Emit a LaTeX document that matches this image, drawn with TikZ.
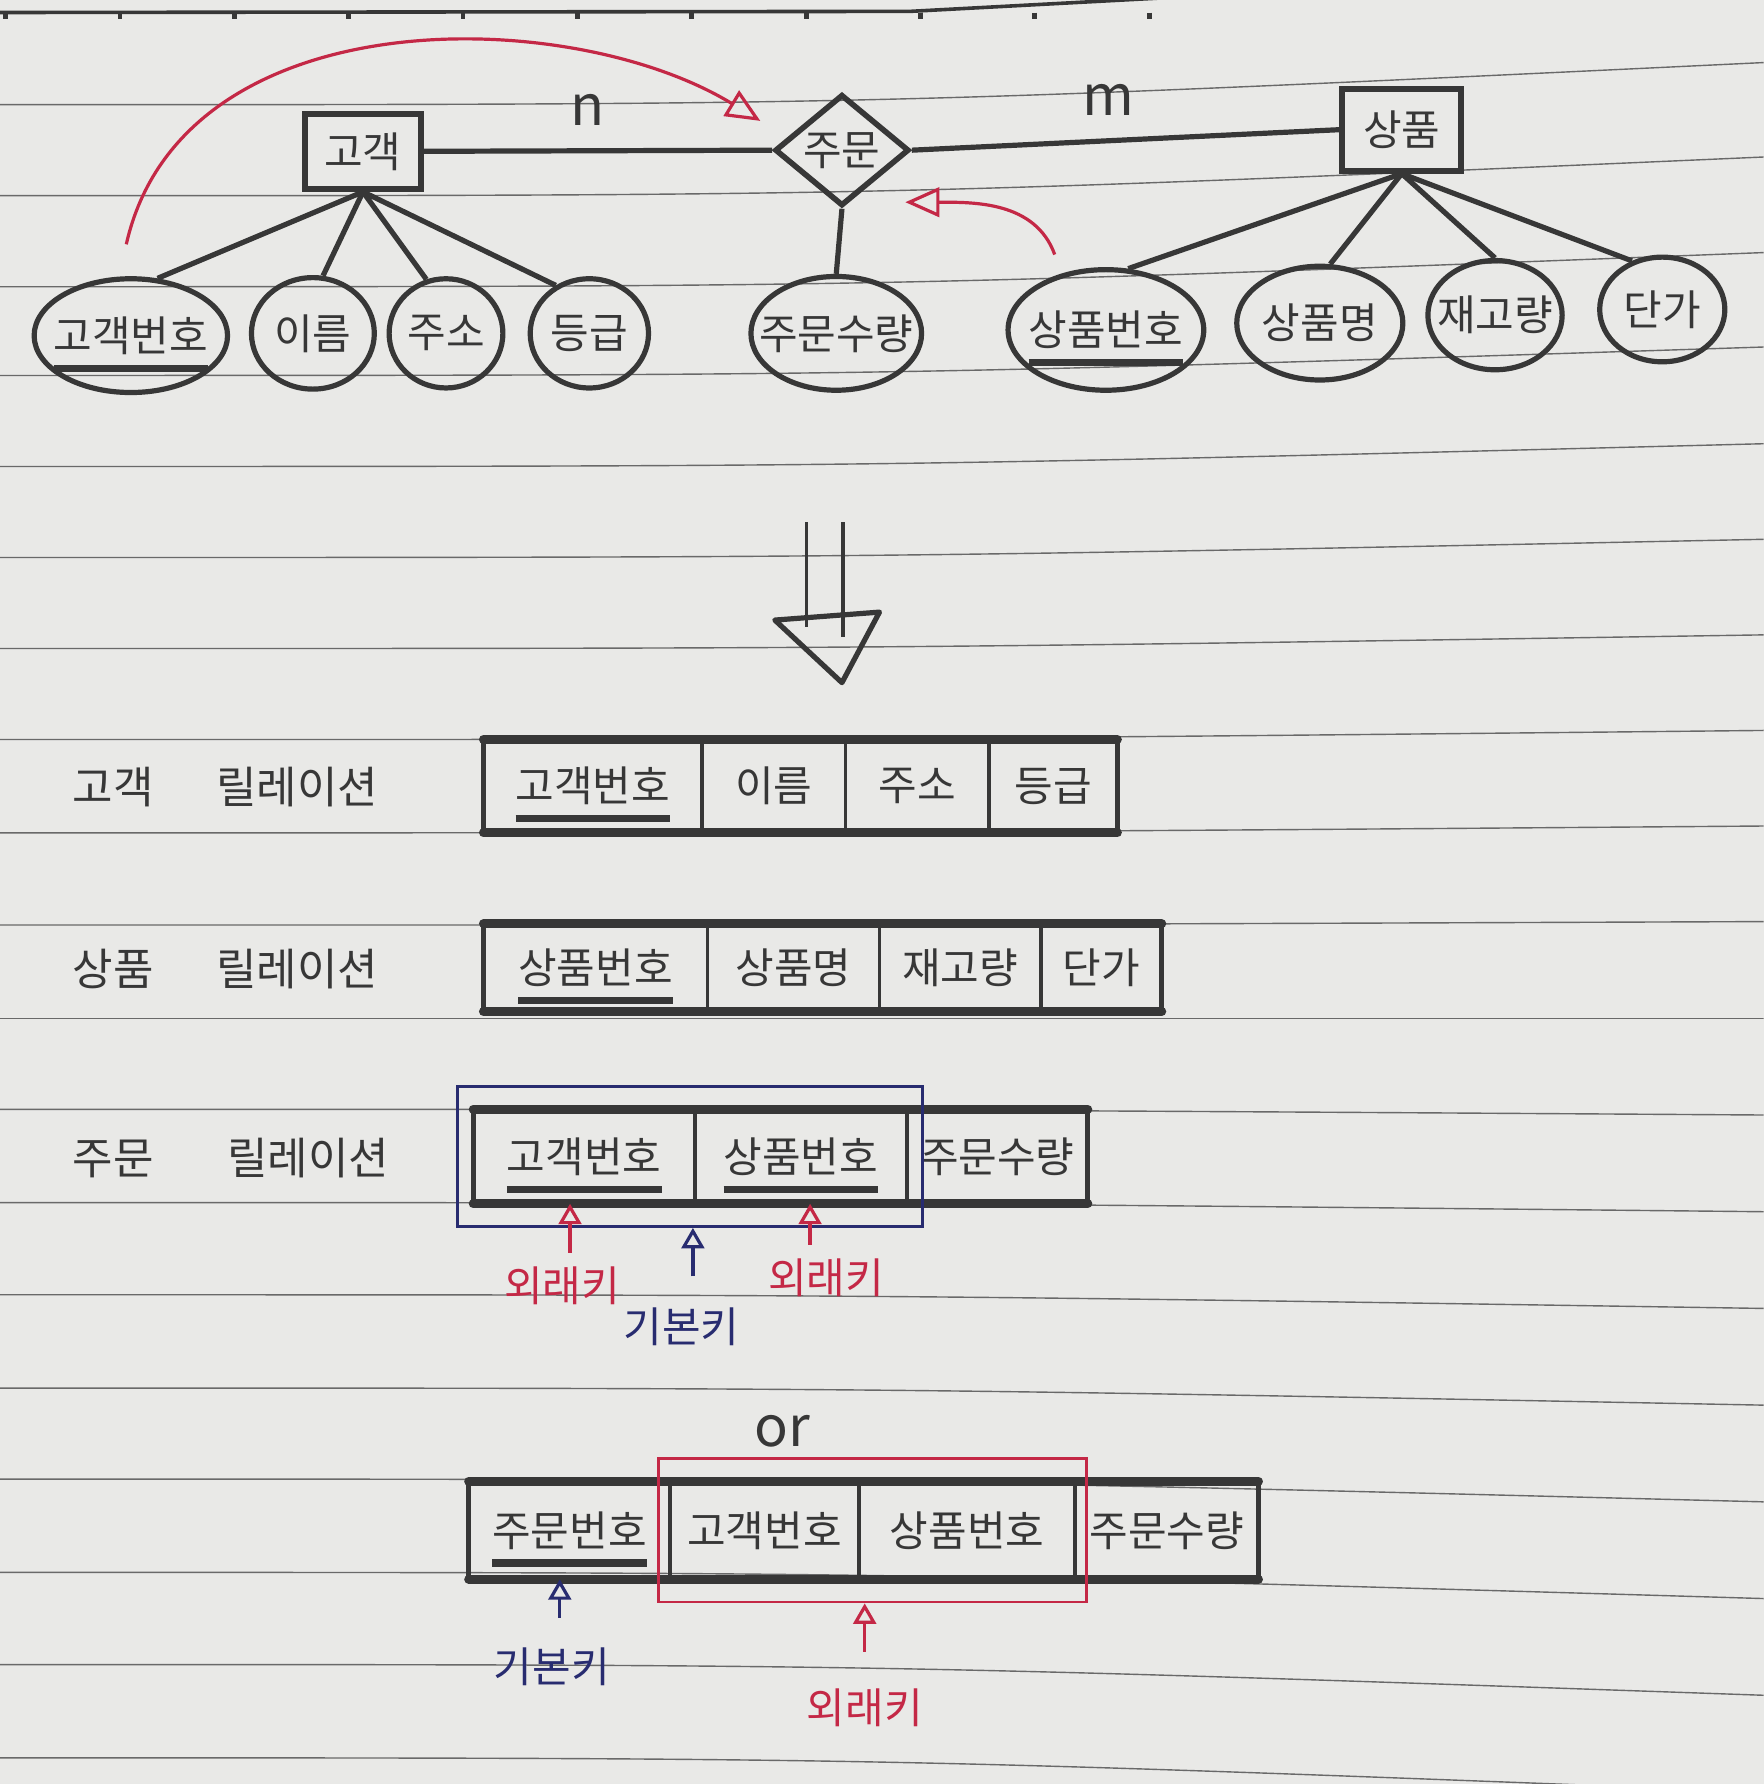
\documentclass[tikz,border=0pt]{standalone}
\usepackage{fontspec}
\setmainfont{Noto Sans CJK KR}
\usepackage{tikz}
\usetikzlibrary{arrows.meta,positioning,shapes.geometric,fit}
\definecolor{paper}{RGB}{233,233,231}
\definecolor{ruling}{RGB}{105,105,105}
\definecolor{pencil}{RGB}{55,55,55}
\definecolor{penred}{RGB}{196,40,70}
\definecolor{pennavy}{RGB}{40,44,112}
\newlength{\keywd}
\newcommand{\keyname}[1]{\settowidth{\keywd}{#1}#1\llap{\smash{\rule[-0.18cm]{\keywd}{1.8pt}}}}

\begin{document}
\begin{tikzpicture}[
  entity/.style={draw=pencil, line width=1.5pt, text=pencil, font=\fontsize{10.5}{12}\selectfont, minimum width=1.02cm, minimum height=0.66cm, inner sep=2pt},
  relship/.style={diamond, aspect=1.2, draw=pencil, line width=1.4pt, text=pencil, font=\fontsize{10.5}{12}\selectfont, inner sep=0pt, minimum width=1.18cm, minimum height=0.98cm},
  attr/.style={ellipse, draw=pencil, line width=1.3pt, text=pencil, font=\fontsize{10.5}{12}\selectfont, inner xsep=-0.35cm, inner ysep=0pt},
  link/.style={draw=pencil, line width=1.3pt},
  card/.style={text=pencil, font=\fontsize{14}{16}\selectfont},
  relname/.style={text=pencil, font=\fontsize{11}{13}\selectfont},
  cell/.style 2 args={draw=pencil, line width=0.9pt, text=pencil, font=\fontsize{10.5}{12}\selectfont, inner sep=0pt, outer sep=0pt, anchor=west, minimum width=#1, minimum height=#2},
  tableframe/.style={draw=pencil, line width=1.3pt},
  tableedge/.style={draw=pencil, line width=2.3pt, line cap=round},
  refarrow/.style={-{Triangle[open, length=0.3cm, width=0.26cm]}, penred, line width=0.8pt},
  fkarrow/.style={-{Triangle[open, length=0.18cm, width=0.2cm]}, penred, line width=0.8pt},
  pkarrow/.style={-{Triangle[open, length=0.18cm, width=0.2cm]}, pennavy, line width=0.8pt},
  fklabel/.style={text=penred, font=\fontsize{10.5}{12}\selectfont},
  pklabel/.style={text=pennavy, font=\fontsize{10.5}{12}\selectfont}
]

  % notebook page
  \useasboundingbox (0,0) rectangle (15.5,-15.68);
  \fill[paper] (0,0) rectangle (15.5,-15.68);
  \clip (0,0) rectangle (15.5,-15.68);
  \draw[pencil, line width=0.9pt] (0,-0.11) -- (8,-0.10) -- (15.5,0.3);
  \foreach \x in {0,...,10}
    \draw[pencil, line width=1.2pt] (0.05+\x*1.005,-0.11) -- ++(0,-0.06);
  \foreach \yl/\yr in {0.92/0.55, 1.72/1.38, 2.52/2.22, 3.30/3.05, 4.10/3.90, 4.90/4.74, 5.70/5.58, 6.50/6.42, 7.32/7.26, 8.13/8.10, 8.95/8.95, 9.75/9.80, 10.57/10.65, 11.38/11.50, 12.20/12.35, 13.00/13.20, 13.82/14.05, 14.63/14.90, 15.45/15.75}
    \draw[ruling, line width=0.35pt] (0,-\yl) .. controls (7.75,-\yl) .. (15.5,-\yr);

  % E-R diagram
  \node[entity] (cust) at (3.19,-1.33) {고객};
  \node[relship] (ord) at (7.40,-1.32) {주문};
  \node[entity, minimum width=1.05cm, minimum height=0.72cm] (prod) at (12.32,-1.14) {상품};

  \node[attr, minimum width=1.70cm, minimum height=1.00cm] (cno) at (1.15,-2.95) {\keyname{고객번호}};
  \node[attr, minimum width=1.08cm, minimum height=0.98cm] (cname) at (2.75,-2.93) {이름};
  \node[attr, minimum width=1.00cm, minimum height=0.96cm] (caddr) at (3.92,-2.93) {주소};
  \node[attr, minimum width=1.04cm, minimum height=0.96cm] (cgrade) at (5.18,-2.93) {등급};
  \node[attr, minimum width=1.50cm, minimum height=1.00cm] (oqty) at (7.35,-2.93) {주문수량};
  \node[attr, minimum width=1.72cm, minimum height=1.06cm] (pno) at (9.72,-2.90) {\keyname{상품번호}};
  \node[attr, minimum width=1.46cm, minimum height=1.00cm] (pname) at (11.60,-2.84) {상품명};
  \node[attr, minimum width=1.18cm, minimum height=0.96cm] (pstock) at (13.14,-2.77) {재고량};
  \node[attr, minimum width=1.10cm, minimum height=0.92cm] (pprice) at (14.61,-2.72) {단가};

  \draw[link] (cust.east) -- node[card, pos=0.47, above=0.08cm] {n} (ord.west);
  \draw[link] (ord.east) -- node[card, pos=0.46, above=0.08cm] {m} (prod.west);
  \draw[link] (cust.south) -- (cno.65);
  \draw[link] (cust.south) -- (cname.80);
  \draw[link] (cust.south) -- (caddr.110);
  \draw[link] (cust.south) -- (cgrade.125);
  \draw[link] (ord.south) -- (oqty.north);
  \draw[link] (prod.south) -- (pno.70);
  \draw[link] (prod.south) -- (pname.80);
  \draw[link] (prod.south) -- (pstock.north);
  \draw[link] (prod.south) -- (pprice.122);

  % keys carried into the relationship
  \draw[refarrow] ([shift={(-0.04,0.28)}]cno.north) .. controls +(0.49,2.17) and +(-1.69,1.03) .. ([xshift=-0.41cm]ord.north west);
  \draw[refarrow] ([shift={(-0.45,0.11)}]pno.north) .. controls +(110:0.5) and +(0:0.6) .. ([shift={(0.25,-0.2)}]ord.south east);

  % down arrow
  \draw[pencil, line width=0.9pt] (7.09,-4.59) -- (7.09,-5.51);
  \draw[pencil, line width=0.9pt] (7.41,-4.59) -- (7.41,-5.60);
  \draw[pencil, line width=1.3pt, line join=round] (6.81,-5.45) -- (7.73,-5.38) -- (7.40,-6.00) -- cycle;

  % customer relation
  \node[relname] (custrel) at (1.98,-6.92) {고객\hspace{0.55cm}릴레이션};
  \node[cell={1.92cm}{0.82cm}] (ck1) at (4.25,-6.91) {\keyname{고객번호}};
  \node[cell={1.26cm}{0.82cm}, right=0pt of ck1] (ck2) {이름};
  \node[cell={1.26cm}{0.82cm}, right=0pt of ck2] (ck3) {주소};
  \node[cell={1.13cm}{0.82cm}, right=0pt of ck3] (ck4) {등급};
  \draw[tableframe] (ck1.north west) rectangle (ck4.south east);
  \draw[tableedge] (ck1.north west) -- (ck4.north east);
  \draw[tableedge] (ck1.south west) -- (ck4.south east);

  % product relation
  \node[relname] (prodrel) at (1.98,-8.52) {상품\hspace{0.55cm}릴레이션};
  \node[cell={1.97cm}{0.77cm}] (pk1) at (4.25,-8.505) {\keyname{상품번호}};
  \node[cell={1.51cm}{0.77cm}, right=0pt of pk1] (pk2) {상품명};
  \node[cell={1.42cm}{0.77cm}, right=0pt of pk2] (pk3) {재고량};
  \node[cell={1.06cm}{0.77cm}, right=0pt of pk3] (pk4) {단가};
  \draw[tableframe] (pk1.north west) rectangle (pk4.south east);
  \draw[tableedge] (pk1.north west) -- (pk4.north east);
  \draw[tableedge] (pk1.south west) -- (pk4.south east);

  % order relation
  \node[relname] (ordrel) at (2.03,-10.18) {주문\hspace{0.65cm}릴레이션};
  \node[cell={1.95cm}{0.83cm}] (ok1) at (4.16,-10.165) {\keyname{고객번호}};
  \node[cell={1.86cm}{0.83cm}, right=0pt of ok1] (ok2) {\keyname{상품번호}};
  \node[cell={1.59cm}{0.83cm}, right=0pt of ok2] (ok3) {주문수량};
  \draw[tableframe] (ok1.north west) rectangle (ok3.south east);
  \draw[tableedge] (ok1.north west) -- (ok3.north east);
  \draw[tableedge] (ok1.south west) -- (ok3.south east);
  \node[draw=pennavy, line width=0.7pt, inner xsep=0.14cm, inner ysep=0.2cm, fit=(ok1)(ok2)] (okbox) {};

  \node[fklabel] (fk1) at (4.94,-11.30) {외래키};
  \node[fklabel] (fk2) at (7.26,-11.23) {외래키};
  \node[pklabel] (pk) at (5.99,-11.66) {기본키};
  \draw[fkarrow] ([xshift=0.07cm]fk1.north) -- ([xshift=0.07cm]fk1.north |- ok1.south);
  \draw[fkarrow] ([xshift=-0.14cm]fk2.north) -- ([xshift=-0.14cm]fk2.north |- ok2.south);
  \draw[pkarrow] ([shift={(0.1,0.15)}]pk.north) -- ([xshift=0.1cm]pk.north |- okbox.south);

  % order relation with its own key
  \node[card] (ortext) at (6.88,-12.58) {or};
  \node[cell={1.77cm}{0.86cm}] (ob1) at (4.12,-13.45) {\keyname{주문번호}};
  \node[cell={1.66cm}{0.86cm}, right=0pt of ob1] (ob2) {고객번호};
  \node[cell={1.90cm}{0.86cm}, right=0pt of ob2] (ob3) {상품번호};
  \node[cell={1.61cm}{0.86cm}, right=0pt of ob3] (ob4) {주문수량};
  \draw[tableframe] (ob1.north west) rectangle (ob4.south east);
  \draw[tableedge] (ob1.north west) -- (ob4.north east);
  \draw[tableedge] (ob1.south west) -- (ob4.south east);
  \node[draw=penred, line width=0.7pt, inner xsep=0.1cm, inner ysep=0.2cm, fit=(ob2)(ob3)] (obbox) {};

  \node[pklabel] (pk2) at (4.85,-14.65) {기본키};
  \node[fklabel] (fk3) at (7.60,-15.01) {외래키};
  \draw[pkarrow] ([shift={(0.07,0.14)}]pk2.north) -- ([xshift=0.07cm]pk2.north |- ob1.south);
  \draw[fkarrow] ([yshift=0.2cm]fk3.north) -- (fk3.north |- obbox.south);

\end{tikzpicture}
\end{document}
